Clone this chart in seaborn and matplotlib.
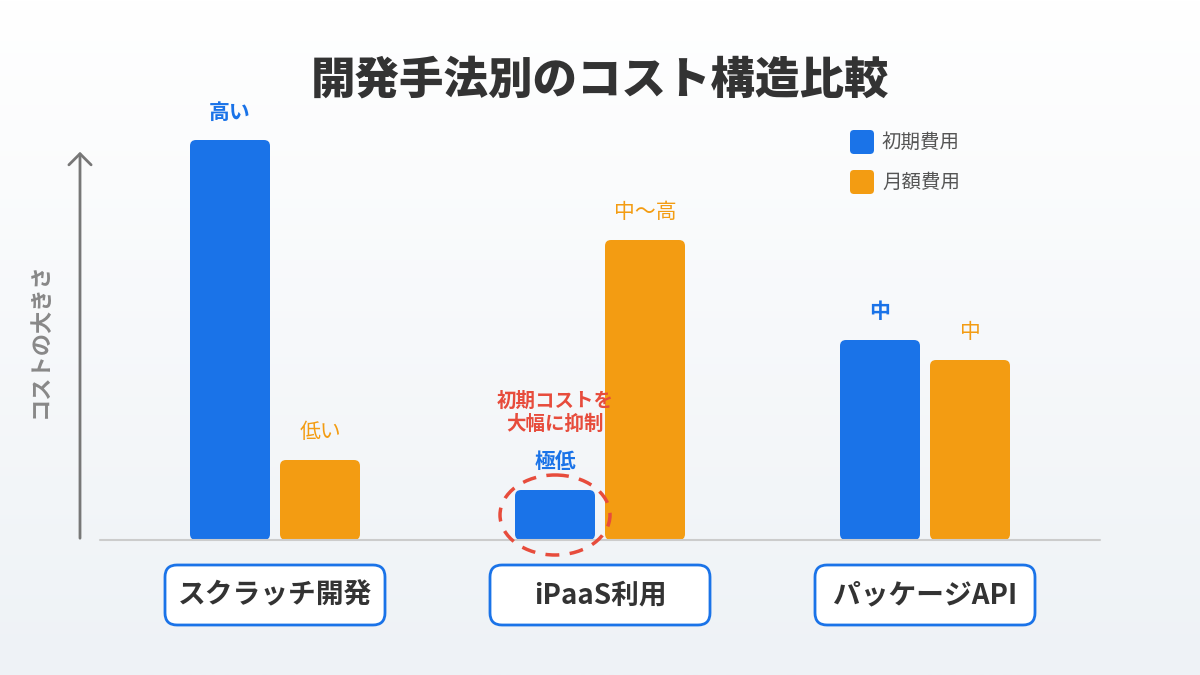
import numpy as np
import pandas as pd
import seaborn as sns
import matplotlib.pyplot as plt
from matplotlib.patches import FancyBboxPatch, Ellipse

sns.set_theme(style='white')
plt.rcParams['font.family'] = ['Noto Sans CJK JP', 'DejaVu Sans']

# データ
categories = ['スクラッチ開発', 'iPaaS利用', 'パッケージAPI']
series = ['初期費用', '月額費用']
initial = [100, 12.5, 50]
monthly = [20, 75, 45]
initial_labels = ['高い', '極低', '中']
monthly_labels = ['低い', '中〜高', '中']

BLUE = '#1a73e8'
ORANGE = '#f39c12'
RED = '#e74c3c'
DARK = '#333333'

df = pd.DataFrame({
    '手法': categories * 2,
    '費用': [series[0]] * 3 + [series[1]] * 3,
    'コスト': initial + monthly,
})

W, H = 1200, 675
fig = plt.figure(figsize=(12, 6.75), dpi=100)

# 背景グラデーション
bg = fig.add_axes([0, 0, 1, 1], zorder=0)
grad = np.linspace(0, 1, 256).reshape(-1, 1)
top = np.array([255, 255, 255]) / 255
bot = np.array([238, 242, 246]) / 255
img = top + (bot - top) * grad[..., None]
bg.imshow(img, aspect='auto', extent=[0, 1, 0, 1], origin='upper')
bg.axis('off')

# メインの棒グラフ
ax = fig.add_axes([100 / W, 135 / H, 1000 / W, 400 / H], zorder=1)
ax.patch.set_alpha(0)
sns.barplot(data=df, x='手法', y='コスト', hue='費用', palette=[BLUE, ORANGE],
            width=180 / 325, gap=10 / 90, saturation=1, legend=False, ax=ax)
ax.set_xlim(-175 / 325, 2 + 175 / 325)
ax.set_ylim(0, 100)
ax.axis('off')

# 角丸の棒に置き換え
aspect = (100 / 400) / (1 / 325)
bars = list(ax.patches)
for p in bars:
    x, y = p.get_x(), p.get_y()
    w, h = p.get_width(), p.get_height()
    fb = FancyBboxPatch((x, y), w, h, boxstyle='round,pad=0,rounding_size=%f' % (6 / 325),
                        mutation_aspect=aspect, facecolor=p.get_facecolor(),
                        edgecolor='none', zorder=3)
    ax.add_patch(fb)
    p.set_visible(False)

# 値ラベル
init_bars = bars[:3]
mon_bars = bars[3:6]
for p, lab in zip(init_bars, initial_labels):
    ax.annotate(lab, (p.get_x() + p.get_width() / 2, p.get_height()),
                xytext=(0, 28), textcoords='offset pixels', ha='center', va='center',
                fontsize=15, fontweight='bold', color=BLUE, annotation_clip=False)
for p, lab in zip(mon_bars, monthly_labels):
    ax.annotate(lab, (p.get_x() + p.get_width() / 2, p.get_height()),
                xytext=(0, 28), textcoords='offset pixels', ha='center', va='center',
                fontsize=15, color=ORANGE, annotation_clip=False)

# 注釈
ip = init_bars[1]
ax.annotate('初期コストを\n大幅に抑制', (ip.get_x() + ip.get_width() / 2, ip.get_height()),
            xytext=(0, 77), textcoords='offset pixels', ha='center', va='center',
            fontsize=14, fontweight='bold', color=RED, linespacing=1.25,
            annotation_clip=False)

# オーバーレイ (ピクセル座標)
ov = fig.add_axes([0, 0, 1, 1], zorder=2)
ov.set_xlim(0, W)
ov.set_ylim(H, 0)
ov.patch.set_alpha(0)
ov.axis('off')


def to_px(xd, yd):
    dx, dy = ax.transData.transform((xd, yd))
    return dx, H - dy


# タイトル
ov.text(600, 80, '開発手法別のコスト構造比較', ha='center', va='center',
        fontsize=32, fontweight='black', color=DARK)

# 軸線と矢印
ov.plot([100, 1100], [540, 540], color='#cccccc', lw=1.5, zorder=1)
ov.annotate('', xy=(80, 149), xytext=(80, 541),
            arrowprops=dict(arrowstyle='->,head_length=0.4,head_width=0.4',
                            color='#777777', lw=2, mutation_scale=20))
ov.text(40, 340, 'コストの大きさ', rotation=90, ha='center', va='center',
        fontsize=16, fontweight='bold', color='#888888')

# 凡例
for i, (name, col) in enumerate(zip(series, [BLUE, ORANGE])):
    y0 = 130 + i * 40
    ov.add_patch(FancyBboxPatch((850, y0), 24, 24, boxstyle='round,pad=0,rounding_size=4',
                                facecolor=col, edgecolor='none'))
    ov.text(882, y0 + 12, name, ha='left', va='center', fontsize=14, color='#555555')

# カテゴリ ボックス
for i, cat in enumerate(categories):
    cx, _ = to_px(i, 0)
    ov.add_patch(FancyBboxPatch((cx - 110, 565), 220, 60, boxstyle='round,pad=0,rounding_size=12',
                                facecolor='white', edgecolor=BLUE, lw=2))
    ov.text(cx, 595, cat, ha='center', va='center', fontsize=20, fontweight='bold', color=DARK)

# 点線の楕円
ex, ey = to_px(ip.get_x() + ip.get_width() / 2, ip.get_height() / 2)
ov.add_patch(Ellipse((ex, ey), 110, 80, fill=False, edgecolor=RED, lw=2.5, linestyle=(0, (4, 3))))

fig.savefig('out.png', dpi=100)
